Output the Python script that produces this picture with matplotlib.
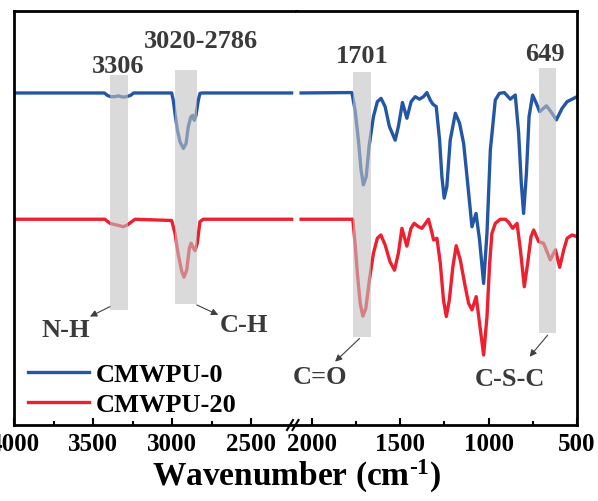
import numpy as np
import matplotlib.pyplot as plt
from matplotlib.lines import Line2D
from matplotlib.ticker import FixedLocator

plt.rcParams['font.family'] = ['Liberation Serif', 'DejaVu Serif']
plt.rcParams['font.weight'] = 'bold'
plt.rcParams['mathtext.fontset'] = 'custom'
plt.rcParams['mathtext.rm'] = 'Liberation Serif:bold'
plt.rcParams['mathtext.bf'] = 'Liberation Serif:bold'
plt.rcParams['mathtext.it'] = 'Liberation Serif:bold'

labels = ['CMWPU-0', 'CMWPU-20']
colors = ['#2456a6', '#ee2030']

# high wavenumber side (4000 - 2245 cm-1)
wn_hi_0 = [4000, 3430, 3410, 3390, 3365, 3340, 3315, 3290, 3265, 3245,
           3004, 2994, 2983, 2968, 2951, 2930, 2913, 2899, 2883, 2871,
           2861, 2850, 2835, 2825, 2810, 2245]
tr_hi_0 = [80.2, 80.2, 79.6, 79.3, 79.3, 79.5, 79.2, 79.3, 79.6, 80.2,
           80.2, 78.5, 75.3, 71.3, 68.4, 66.8, 68.0, 72.0, 74.4, 74.8,
           73.6, 74.8, 78.5, 80.1, 80.2, 80.2]

wn_hi_20 = [4000, 3427, 3394, 3352, 3310, 3285, 3257, 3236,
            3004, 2983, 2962, 2940, 2926, 2909, 2892, 2881, 2867, 2856,
            2842, 2825, 2804, 2245]
tr_hi_20 = [49.7, 49.7, 48.7, 48.3, 47.9, 48.3, 49.1, 49.7,
            49.4, 46.3, 41.1, 37.1, 35.7, 37.4, 42.7, 43.9, 42.7, 42.1,
            43.9, 49.1, 49.7, 49.7]

# low wavenumber side (2060 - 500 cm-1)
wn_lo_0 = [2060, 1773, 1755, 1736, 1721, 1708, 1692, 1676, 1651, 1629,
           1608, 1585, 1561, 1528, 1510, 1487, 1462, 1438, 1415, 1391,
           1368, 1349, 1330, 1315, 1296, 1277, 1264, 1251, 1236, 1217,
           1188, 1164, 1141, 1122, 1094, 1071, 1051, 1028, 1009, 990,
           962, 939, 911, 877, 849, 830, 815, 802, 786, 771,
           751, 730, 711, 673, 641, 617, 584, 556, 500]
tr_lo_0 = [80.2, 80.3, 76.1, 68.8, 61.6, 58.0, 60.0, 67.2, 74.5, 78.1,
           78.9, 76.9, 72.1, 68.8, 72.1, 77.9, 74.1, 78.1, 79.3, 78.7,
           79.3, 80.3, 78.5, 77.5, 76.9, 68.8, 60.0, 54.8, 57.6, 68.8,
           75.3, 72.9, 68.0, 60.0, 47.9, 51.1, 44.7, 34.2, 46.4, 66.4,
           78.5, 80.1, 80.3, 78.7, 79.7, 70.5, 58.4, 51.1, 60.8, 74.5,
           79.7, 77.7, 75.7, 77.1, 75.3, 73.7, 76.5, 78.1, 79.3]

wn_lo_20 = [2060, 1768, 1755, 1742, 1726, 1711, 1694, 1674, 1651, 1629,
            1609, 1585, 1557, 1532, 1510, 1490, 1462, 1439, 1421, 1396,
            1377, 1340, 1324, 1311, 1292, 1273, 1255, 1239, 1222, 1202,
            1183, 1160, 1132, 1113, 1094, 1070, 1051, 1028, 1009, 994,
            981, 962, 934, 905, 887, 864, 839, 820, 798, 779,
            760, 745, 717, 689, 670, 651, 622, 598, 575, 556,
            528, 500]
tr_lo_20 = [49.7, 49.7, 43.9, 36.6, 29.4, 26.3, 28.2, 35.0, 41.5, 45.1,
            45.9, 43.5, 39.4, 37.4, 41.5, 47.5, 43.2, 47.5, 48.7, 47.9,
            47.5, 49.7, 47.1, 44.7, 45.1, 39.1, 30.2, 26.2, 30.2, 38.2,
            43.3, 39.9, 33.4, 29.4, 27.8, 31.0, 24.6, 16.9, 26.2, 39.1,
            46.3, 48.7, 49.7, 49.7, 49.0, 47.5, 48.7, 42.3, 33.4, 39.1,
            45.5, 47.1, 44.3, 43.9, 41.9, 39.9, 42.3, 38.1, 42.3, 45.1,
            45.9, 45.5]

# marked bands: label, from, to
band_names = ['3306', '3020-2786', '1701', '649']
band_from = [3394, 2983, 1764, 717]
band_to = [3280, 2845, 1664, 617]
bond_names = ['N-H', 'C-H', 'C=O', 'C-S-C']

fig = plt.figure(figsize=(5.98, 5.01), dpi=100)
split = 296 / 598
axL = fig.add_axes([14.3 / 598, 76 / 501, split - 14.3 / 598, 414 / 501])
axR = fig.add_axes([split, 76 / 501, 577 / 598 - split, 414 / 501])

axL.plot(wn_hi_0, tr_hi_0, color=colors[0], lw=2.4, label=labels[0], zorder=2)
axL.plot(wn_hi_20, tr_hi_20, color=colors[1], lw=2.4, label=labels[1], zorder=2)
axR.plot(wn_lo_0, tr_lo_0, color=colors[0], lw=2.4, zorder=2)
axR.plot(wn_lo_20, tr_lo_20, color=colors[1], lw=2.4, zorder=2)

axL.set_xlim(4000, 2217)
axR.set_xlim(2089, 500)
for ax in (axL, axR):
    ax.set_ylim(0, 100)
    ax.set_yticks([])
    ax.tick_params(axis='x', which='major', direction='in', length=5, width=1.5,
                   labelsize=18, pad=6)
    ax.tick_params(axis='x', which='minor', direction='in', length=3, width=1.5)
    for s in ax.spines.values():
        s.set_linewidth(2)
axL.spines['right'].set_visible(False)
axR.spines['left'].set_visible(False)
axL.set_xticks([4000, 3500, 3000, 2500])
axL.xaxis.set_minor_locator(FixedLocator([3750, 3250, 2750]))
axR.set_xticks([2000, 1500, 1000, 500])
axR.xaxis.set_minor_locator(FixedLocator([1750, 1250, 750]))

# gray bands (on top of the curves, so the curves look faded)
band_ax = [axL, axL, axR, axR]
band_y = [(0.278, 0.845), (0.292, 0.857), (0.213, 0.853), (0.223, 0.863)]
for ax, a, b, (y0, y1) in zip(band_ax, band_from, band_to, band_y):
    ax.axvspan(a, b, ymin=y0, ymax=y1, color='#c2c2c2', alpha=0.6, lw=0, zorder=3)

txt = '#3a3a3a'
top_pos = [(axL, 3344, 0.865), (axL, 2818, 0.927), (axR, 1717, 0.889), (axR, 684, 0.894)]
for (ax, x, y), s in zip(top_pos, band_names):
    ax.text(x, y, s, transform=ax.get_xaxis_transform(), ha='center', va='center',
            fontsize=19, color=txt)

bot_pos = [(axL, 3676, 0.228), (axL, 2546, 0.240), (axR, 1953, 0.114), (axR, 877, 0.111)]
arrows = [((3394, 0.286), (3521, 0.262)), ((2845, 0.290), (2709, 0.266)),
          ((1730, 0.209), (1868, 0.153)), ((666, 0.217), (768, 0.165))]
for (ax, x, y), s, (tail, head) in zip(bot_pos, bond_names, arrows):
    ax.text(x, y, s, transform=ax.get_xaxis_transform(), ha='center', va='center',
            fontsize=19, color=txt)
    ax.annotate('', xy=head, xytext=tail, xycoords=('data', 'axes fraction'),
                textcoords=('data', 'axes fraction'),
                arrowprops=dict(arrowstyle='-|>', color='#404040', lw=0.8,
                                mutation_scale=10, shrinkA=0, shrinkB=0))

axL.legend(loc='lower left', bbox_to_anchor=(0.05, 0.02), frameon=False,
           fontsize=19, handlelength=2.3, handletextpad=0.25, labelspacing=0.25,
           borderpad=0, borderaxespad=0)

# axis break marks
for x0 in (287, 292.5):
    fig.add_artist(Line2D([x0 / 598, (x0 + 6) / 598], [(501 - 430) / 501, (501 - 420) / 501],
                          color='black', lw=1.5, transform=fig.transFigure))

fig.text(297 / 598, 1 - 476 / 501, r'Wavenumber (cm$^{\text{-}1}$)', ha='center',
         va='center', fontsize=24, fontweight='bold')

fig.savefig('out.png', dpi=100)
